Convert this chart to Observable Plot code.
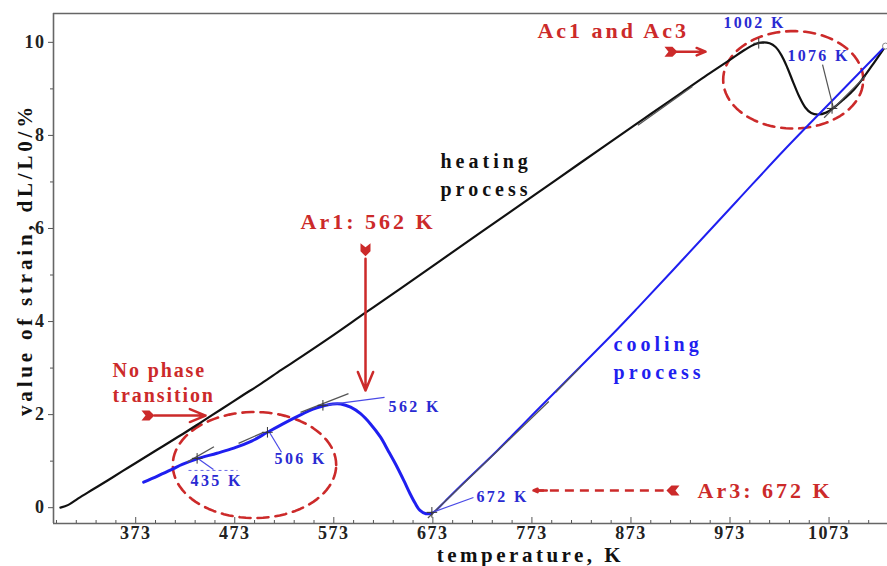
<!DOCTYPE html>
<html><head><meta charset="utf-8">
<script src="https://cdn.jsdelivr.net/npm/d3@7"></script>
<script src="https://cdn.jsdelivr.net/npm/@observablehq/plot@0.6"></script>
<style>body{margin:0;background:#fff}</style>
</head><body>
<script>
// ---- scales / ticks ----
const xDomain = [290, 1132];
const yDomain = [-0.34, 10.62];
const xMajorTicks = [373, 473, 573, 673, 773, 873, 973, 1073];
const xMinorTicks = [293,313,333,353,393,413,433,453,493,513,533,553,593,613,633,653,693,713,733,753,793,813,833,853,893,913,933,953,993,1013,1033,1053,1093,1113];
const yMajorTicks = [0, 2, 4, 6, 8, 10];
const yMinorTicks = [1, 3, 5, 7, 9];

// ---- heating curve (black) ----
const heatingT = [297,305,315,330,345,360,373,395,418,440,459,480,500,520,540,570,605,641,680,721,775,820,876,893,925,950,974,988,998,1006,1013,1019,1025,1031,1037,1043,1049,1055,1062,1070,1078,1088,1098,1108,1118,1130];
const heatingV = [0,0.06,0.2,0.395,0.59,0.79,0.96,1.25,1.55,1.85,2.11,2.4,2.67,2.96,3.24,3.67,4.19,4.72,5.3,5.91,6.71,7.38,8.21,8.46,8.93,9.3,9.64,9.84,9.96,10.0,9.98,9.9,9.72,9.45,9.13,8.83,8.6,8.48,8.45,8.49,8.6,8.78,8.98,9.25,9.55,9.92];

// ---- cooling curve (blue), in order of decreasing temperature ----
const coolingT = [1130,1080,1027.5,980,926.5,880,855.8,805,770,738.7,704,685,676,672,666,660,655,650,644,637,628,620,610,600,590,580,572,563,552,540,525,506,490,472,455,435,420,411,395,381];
const coolingV = [9.92,8.83,7.68,6.59,5.36,4.3,3.76,2.67,1.92,1.24,0.53,0.13,-0.06,-0.12,-0.13,-0.06,0.1,0.3,0.57,0.87,1.22,1.52,1.8,2.02,2.16,2.23,2.23,2.19,2.12,2.0,1.84,1.62,1.43,1.28,1.17,1.05,0.93,0.84,0.68,0.55];

// ---- characteristic points ----
const markerT = [435, 506, 562, 672, 1002, 1076];
const markerV = [1.06, 1.62, 2.2, -0.1, 9.98, 8.58];
const markerLabels = ["435 K", "506 K", "562 K", "672 K", "1002 K", "1076 K"];

// ---- tangent construction lines ----
const tangentT1 = [425, 476.8, 539.4, 668, 797, 880, 1068];
const tangentV1 = [0.98, 1.38, 2.05, -0.22, 2.48, 8.22, 8.38];
const tangentT2 = [452, 502, 587.8, 790, 822, 935, 1110];
const tangentV2 = [1.31, 1.62, 2.45, 2.28, 3.02, 9.05, 9.28];

// ---- annotation anchors (data units) ----
const leaderT1 = [435.4, 508, 562.6, 672.6];
const leaderV1 = [1.06, 1.62, 2.2, -0.1];
const leaderT2 = [451.5, 520.2, 624.2, 714];
const leaderV2 = [0.82, 1.19, 2.37, 0.22];
const labelSmallT = [428.3, 513.1, 628.2, 717];
const labelSmallV = [0.58, 1.04, 2.17, 0.24];
const labelBigT = [966.4, 1031];
const labelBigV = [10.41, 9.7];

const redTexts = ["Ac1 and Ac3", "Ar1: 562 K", "Ar3: 672 K"];
const redTextT = [778.6, 539.4, 940.2];
const redTextV = [10.25, 6.13, 0.37];

const arrowT1 = [919, 392, 605];
const arrowV1 = [9.8, 1.98, 5.35];
const arrowT2 = [948.3, 443.5, 605];
const arrowV2 = [9.8, 1.98, 2.52];
const fletchT = [913.9, 385.9, 605, 914.9];
const fletchV = [9.8, 1.98, 5.53, 0.37];
const fletchRot = [0, 0, 90, 180];

const ellipseC = [[1036.8, 9.195, 70.7, 1.047], [492.9, 0.917, 82.5, 1.139]];

// ---- tables ----
const heating = heatingT.map((T, i) => ({T, V: heatingV[i]}));
const cooling = coolingT.map((T, i) => ({T, V: coolingV[i]}));
const markers = markerT.map((T, i) => ({T, V: markerV[i]}));
const tangents = tangentT1.map((t, i) => ({x1: t, y1: tangentV1[i], x2: tangentT2[i], y2: tangentV2[i]}));
const leaders = leaderT1.map((t, i) => ({x1: t, y1: leaderV1[i], x2: leaderT2[i], y2: leaderV2[i]}));
const smallLabels = labelSmallT.map((T, i) => ({T, V: labelSmallV[i], text: markerLabels[i]}));
const bigLabels = labelBigT.map((T, i) => ({T, V: labelBigV[i], text: markerLabels[i + 4]}));
const redLabels = redTexts.map((text, i) => ({T: redTextT[i], V: redTextV[i], text}));
const arrows = arrowT1.map((t, i) => ({x1: t, y1: arrowV1[i], x2: arrowT2[i], y2: arrowV2[i]}));
const fletches = fletchT.map((T, i) => ({T, V: fletchV[i], rot: fletchRot[i]}));
const ellipsePts = [];
ellipseC.forEach(([cx, cy, rx, ry], id) => {
  for (let k = 0; k <= 90; k++) {
    const a = (k / 90) * 2 * Math.PI;
    ellipsePts.push({id, T: cx + rx * Math.cos(a), V: cy + ry * Math.sin(a)});
  }
});

const RED = "#cc2a2a", BLUE = "#1f1ff0", LBLUE = "#2a2ad2";
const fletch = {draw(ctx, size) {
  const s = Math.sqrt(size / Math.PI) / 5;
  ctx.moveTo(-7*s, -5*s); ctx.lineTo(1*s, -5*s); ctx.lineTo(6*s, 0);
  ctx.lineTo(1*s, 5*s); ctx.lineTo(-7*s, 5*s); ctx.lineTo(-3*s, 0); ctx.closePath();
}};

const chart = Plot.plot({
  width: 887, height: 566,
  marginLeft: 53, marginRight: 0, marginTop: 13, marginBottom: 43,
  style: {fontFamily: "'Liberation Serif', serif", fontWeight: "bold", fontSize: "18px", color: "#222", background: "#fff"},
  x: {domain: xDomain, label: null},
  y: {domain: yDomain, label: null},
  marks: [
    Plot.ruleY([yDomain[0], yDomain[1]], {stroke: "#666", strokeWidth: 1.6}),
    Plot.ruleX([xDomain[0]], {stroke: "#666", strokeWidth: 1.6}),
    Plot.axisX({ticks: xMinorTicks, tickSize: -3, tickFormat: () => "", label: null, stroke: "#555"}),
    Plot.axisX({ticks: xMajorTicks, tickSize: -6, tickFormat: () => "", label: null, stroke: "#555"}),
    Plot.axisX({ticks: xMajorTicks, tickSize: 0, tickPadding: 3, tickFormat: d => String(d), label: null}),
    Plot.axisY({ticks: yMinorTicks, tickSize: 3, tickFormat: () => "", label: null, stroke: "#555"}),
    Plot.axisY({ticks: yMajorTicks, tickSize: 5, tickPadding: 3, tickFormat: d => String(d), label: null, stroke: "#555"}),

    // dashed ellipses
    Plot.line(ellipsePts, {x: "T", y: "V", z: "id", stroke: RED, strokeWidth: 2.6, strokeDasharray: "11,7"}),

    // curves
    Plot.line(heating, {x: "T", y: "V", stroke: "#111", strokeWidth: 2.2, curve: "catmull-rom"}),
    Plot.line(cooling.filter(d => d.T >= 672), {x: "T", y: "V", stroke: BLUE, strokeWidth: 2, curve: "catmull-rom"}),
    Plot.line(cooling.filter(d => d.T <= 672), {x: "T", y: "V", stroke: BLUE, strokeWidth: 3, curve: "catmull-rom"}),

    // construction lines
    Plot.link(tangents, {x1: "x1", y1: "y1", x2: "x2", y2: "y2", stroke: "#555", strokeWidth: 1.3}),
    Plot.link(leaders, {x1: "x1", y1: "y1", x2: "x2", y2: "y2", stroke: "#4a4ae6", strokeWidth: 1.2}),
    Plot.link([{x1: 1066.4, y1: 9.52, x2: 1077.5, y2: 8.58}], {x1: "x1", y1: "y1", x2: "x2", y2: "y2", stroke: "#555", strokeWidth: 1.2}),
    Plot.link([{x1: 426.3, y1: 0.8, x2: 475.8, y2: 0.8}], {x1: "x1", y1: "y1", x2: "x2", y2: "y2", stroke: "#6a6ae8", strokeWidth: 1, strokeDasharray: "3,3"}),
    Plot.dot(markers, {x: "T", y: "V", symbol: "plus", r: 3.5, stroke: "#333", strokeWidth: 1}),
    Plot.dot([heating[heating.length - 1]], {x: "T", y: "V", r: 3, stroke: "#888", fill: "#fff", strokeWidth: 1}),

    // red arrows
    Plot.arrow(arrows, {x1: "x1", y1: "y1", x2: "x2", y2: "y2", stroke: RED, strokeWidth: 2.5, headLength: 12, headAngle: 45}),
    Plot.link([{x1: 776, y1: 0.37, x2: 906, y2: 0.37}], {x1: "x1", y1: "y1", x2: "x2", y2: "y2", stroke: RED, strokeWidth: 2.5, strokeDasharray: "9,6"}),
    Plot.arrow([{x1: 788, y1: 0.37, x2: 774.6, y2: 0.37}], {x1: "x1", y1: "y1", x2: "x2", y2: "y2", stroke: RED, strokeWidth: 2.5, headLength: 12, headAngle: 45}),
    Plot.dot(fletches, {x: "T", y: "V", rotate: "rot", symbol: fletch, r: 5, fill: RED, stroke: "none"}),

    // texts
    Plot.text(redLabels, {x: "T", y: "V", text: "text", fill: RED, fontSize: 22, fontWeight: "bold", textAnchor: "start"}),
    Plot.text(["No phase\ntransition"], {x: () => 349.6, y: () => 2.72, text: d => d, fill: RED, fontSize: 20, fontWeight: "bold", textAnchor: "start", lineHeight: 1.25}),
    Plot.text(["heating\nprocess"], {x: () => 680.7, y: () => 7.2, text: d => d, fill: "#111", fontSize: 20, fontWeight: "bold", textAnchor: "start", lineHeight: 1.4}),
    Plot.text(["cooling\nprocess"], {x: () => 855.4, y: () => 3.25, text: d => d, fill: BLUE, fontSize: 20, fontWeight: "bold", textAnchor: "start", lineHeight: 1.4}),
    Plot.text(bigLabels, {x: "T", y: "V", text: "text", fill: LBLUE, fontSize: 16, fontWeight: "bold", textAnchor: "start"}),
    Plot.text(smallLabels, {x: "T", y: "V", text: "text", fill: LBLUE, fontSize: 16, fontWeight: "bold", textAnchor: "start"}),
    Plot.text(["value of strain, dL/L0/%"], {frameAnchor: "left", textAnchor: "middle", lineAnchor: "middle", text: d => d, rotate: -90, dx: -28, dy: -9, fontSize: 21, fontWeight: "bold", fill: "#111"}),
    Plot.text(["temperature, K"], {frameAnchor: "bottom", textAnchor: "middle", lineAnchor: "middle", text: d => d, dx: 60, dy: 32, fontSize: 21, fontWeight: "bold", fill: "#111"})
  ]
});

const spacing = [3, 1.9, 4, 4, 2.3, 2.4, 3.8, 3.5];
chart.querySelectorAll('g[aria-label="text"]').forEach((g, i) => g.setAttribute("letter-spacing", (spacing[i] ?? 0) + "px"));
chart.querySelectorAll('g[aria-label$="tick label"]').forEach(g => g.setAttribute("letter-spacing", "1.5px"));
document.body.appendChild(chart);
</script>
</body></html>
